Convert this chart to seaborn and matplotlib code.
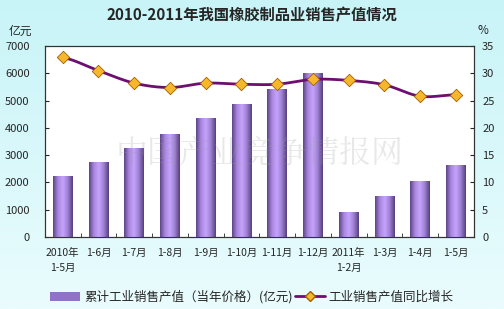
import numpy as np
import pandas as pd
import matplotlib
matplotlib.use("Agg")
import matplotlib.pyplot as plt
import seaborn as sns
from matplotlib.colors import LinearSegmentedColormap
from matplotlib.patches import Patch
from matplotlib.lines import Line2D

categories = ["2010年\n1-5月", "1-6月", "1-7月", "1-8月", "1-9月", "1-10月",
              "1-11月", "1-12月", "2011年\n1-2月", "1-3月", "1-4月", "1-5月"]
sales_value = [2230, 2750, 3260, 3770, 4360, 4870, 5420, 6000, 915, 1500, 2050, 2640]
growth_rate = [32.9, 30.5, 28.2, 27.4, 28.2, 28.0, 28.0, 28.9, 28.7, 27.9, 25.8, 26.1]

sns.set_style("white")
plt.rcParams['font.family'] = ['Noto Sans CJK SC', 'DejaVu Sans']

fig = plt.figure(figsize=(5.04, 3.09), dpi=100)
bg = fig.add_axes([0, 0, 1, 1], zorder=-10)
grad = np.linspace(0, 1, 256).reshape(-1, 1)
cm_bg = LinearSegmentedColormap.from_list("bg", ["#c8f4f8", "#eafcfd"])
bg.imshow(grad, aspect='auto', cmap=cm_bg, extent=[0, 1, 0, 1])
bg.axis('off')

ax = fig.add_axes([0.089, 0.233, 0.851, 0.618])
ax.set_facecolor("white")
df = pd.DataFrame({"cat": categories, "value": sales_value, "rate": growth_rate})
sns.barplot(data=df, x="cat", y="value", ax=ax, color="#a98ae0", width=0.55,
            saturation=1, edgecolor="none", zorder=2)
cm_bar = LinearSegmentedColormap.from_list("bar", ["#5e4688", "#a987e0", "#c6a4fc", "#9c7fd2", "#56407c"])
hgrad = np.linspace(0, 1, 64).reshape(1, -1)
for p in ax.patches:
    x0, y0 = p.get_x(), p.get_y()
    w, h = p.get_width(), p.get_height()
    im = ax.imshow(hgrad, aspect='auto', cmap=cm_bar, extent=[x0, x0 + w, y0, y0 + h], zorder=3)
    im.set_clip_path(p)
ax.set_xlim(-0.5, len(categories) - 0.5)
ax.set_ylim(0, 7000)
ax.set_yticks(range(0, 7001, 1000))
ax.set_xlabel("")
ax.set_ylabel("")
ax.tick_params(axis='y', labelsize=8, length=3, direction='in', left=True, pad=11)
ax.set_xticks(range(len(categories)))
ax.set_xticklabels(categories, fontsize=7.5, linespacing=1.55)
ax.tick_params(axis='x', length=0, pad=8)
ax.set_xticks(np.arange(-0.5, len(categories), 1), minor=True)
ax.tick_params(axis='x', which='minor', length=3, direction='in', bottom=True)
for s in ax.spines.values():
    s.set_color("#333333")
    s.set_linewidth(0.8)

ax2 = ax.twinx()
ax2.set_ylim(0, 35)
ax2.set_yticks(range(0, 36, 5))
ax2.tick_params(axis='y', labelsize=8, length=3, direction='in', right=True, pad=6)
xs = np.arange(len(growth_rate), dtype=float)
ys = np.array(growth_rate, dtype=float)
P = np.concatenate([[ys[0]], ys, [ys[-1]]])
sx, sy = [], []
for i in range(len(ys) - 1):
    p0, p1, p2, p3 = P[i], P[i + 1], P[i + 2], P[i + 3]
    t = np.linspace(0, 1, 20, endpoint=False)
    yy = 0.5 * ((2 * p1) + (-p0 + p2) * t + (2 * p0 - 5 * p1 + 4 * p2 - p3) * t ** 2 + (-p0 + 3 * p1 - 3 * p2 + p3) * t ** 3)
    sx.extend(xs[i] + t)
    sy.extend(yy)
sx.append(xs[-1]); sy.append(ys[-1])
ax2.plot(sx, sy, color="#6d0f6f", lw=2, zorder=4)
sns.scatterplot(x=xs, y=ys, ax=ax2, marker="D", s=40, color="#f7b72c",
                edgecolor="#a06000", linewidth=0.6, zorder=5)
for s in ax2.spines.values():
    s.set_color("#333333")
    s.set_linewidth(0.8)

ax.text(0.5, 0.44, "中国产业竞争情报网", transform=ax.transAxes, fontsize=23,
        fontfamily=['Noto Serif CJK SC', 'Noto Sans CJK SC'],
        color="#9a9a9a", alpha=0.22, ha='center', va='center', zorder=6)

fig.text(0.5, 0.952, "2010-2011年我国橡胶制品业销售产值情况", ha='center', va='center',
         fontsize=11, fontweight='bold')
fig.text(0.04, 0.9, "亿元", ha='center', va='center', fontsize=8.5)
fig.text(0.958, 0.9, "%", ha='center', va='center', fontsize=8.5)

handles = [Patch(facecolor="#8f73c4", edgecolor="none"),
           Line2D([0], [0], color="#6d0f6f", lw=2, marker="D", markersize=5,
                  markerfacecolor="#f7b72c", markeredgecolor="#a06000")]
fig.legend(handles, ["累计工业销售产值（当年价格）(亿元)", "工业销售产值同比增长"],
           loc='center', bbox_to_anchor=(0.5, 0.038), ncol=2, frameon=False,
           fontsize=9, handlelength=2.4, handleheight=0.8, columnspacing=0.2, handletextpad=0.3)

fig.savefig("out.png", dpi=100)
